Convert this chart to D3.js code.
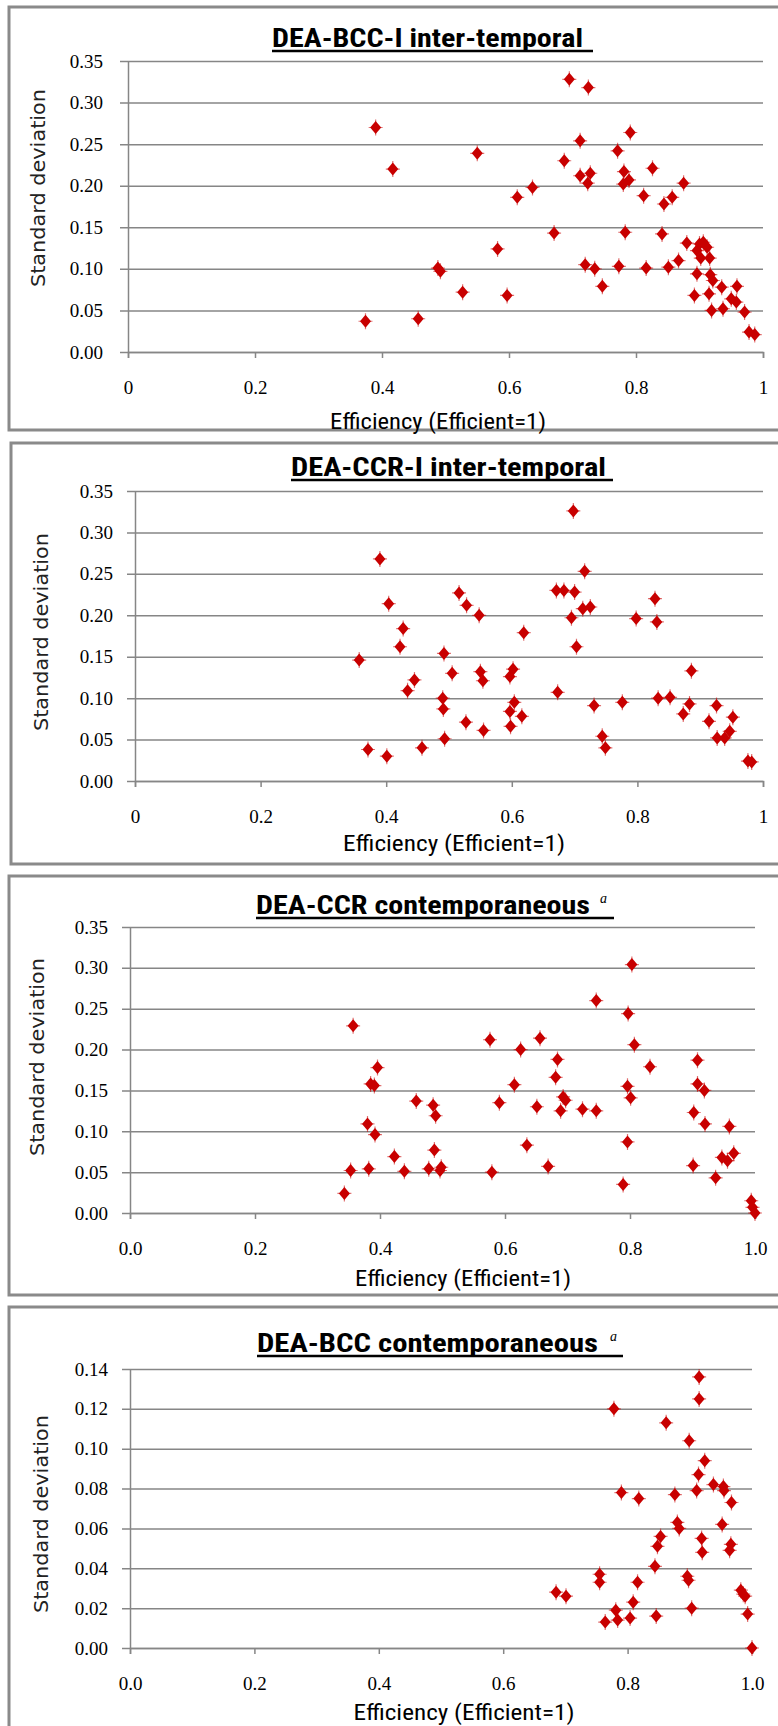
<!DOCTYPE html>
<html>
<head>
<meta charset="utf-8">
<script src="https://cdn.jsdelivr.net/npm/d3@7"></script>
<style>
    body { margin: 0; background: #fff; }
    svg { display: block; }
</style>
</head>
<body>
<div id="chart"></div>
<script>
// DEA-BCC-I inter-temporal
let bccInterEff = [0.374, 0.390, 0.417, 0.457, 0.488, 0.492, 0.527, 0.550, 0.582, 0.597,
    0.613, 0.637, 0.671, 0.695, 0.725, 0.687, 0.712, 0.712, 0.724, 0.728,
    0.720, 0.735, 0.747, 0.771, 0.781, 0.780, 0.789, 0.791, 0.783, 0.773,
    0.812, 0.816, 0.826, 0.844, 0.857, 0.841, 0.851, 0.867, 0.875, 0.880,
    0.892, 0.896, 0.896, 0.900, 0.902, 0.906, 0.912, 0.915, 0.916, 0.917,
    0.921, 0.919, 0.935, 0.937, 0.950, 0.958, 0.959, 0.971, 0.978, 0.987]
let bccInterSd = [0.037, 0.270, 0.220, 0.040, 0.101, 0.097, 0.072, 0.239, 0.124, 0.068,
    0.186, 0.198, 0.143, 0.328, 0.318, 0.230, 0.254, 0.212, 0.203, 0.215,
    0.105, 0.100, 0.079, 0.242, 0.217, 0.202, 0.207, 0.264, 0.144, 0.103,
    0.188, 0.101, 0.221, 0.178, 0.186, 0.142, 0.102, 0.110, 0.203, 0.131,
    0.068, 0.122, 0.094, 0.130, 0.113, 0.132, 0.126, 0.070, 0.113, 0.093,
    0.086, 0.050, 0.078, 0.052, 0.064, 0.060, 0.079, 0.048, 0.024, 0.021]

// DEA-CCR-I inter-temporal
let ccrInterEff = [0.357, 0.371, 0.390, 0.401, 0.404, 0.427, 0.422, 0.445, 0.434, 0.457,
    0.492, 0.490, 0.491, 0.493, 0.505, 0.516, 0.528, 0.527, 0.548, 0.550,
    0.554, 0.555, 0.597, 0.602, 0.597, 0.604, 0.598, 0.616, 0.619, 0.671,
    0.683, 0.700, 0.698, 0.716, 0.695, 0.713, 0.725, 0.703, 0.673, 0.731,
    0.744, 0.749, 0.776, 0.798, 0.828, 0.831, 0.833, 0.852, 0.873, 0.886,
    0.883, 0.914, 0.926, 0.927, 0.939, 0.947, 0.952, 0.976, 0.982]
let ccrInterSd = [0.146, 0.038, 0.268, 0.030, 0.214, 0.184, 0.162, 0.122, 0.109, 0.040,
    0.154, 0.100, 0.087, 0.051, 0.130, 0.227, 0.212, 0.071, 0.200, 0.132,
    0.121, 0.061, 0.126, 0.135, 0.084, 0.095, 0.066, 0.078, 0.179, 0.230,
    0.230, 0.228, 0.326, 0.253, 0.197, 0.208, 0.210, 0.162, 0.107, 0.091,
    0.054, 0.040, 0.095, 0.196, 0.220, 0.192, 0.100, 0.101, 0.081, 0.133,
    0.093, 0.072, 0.091, 0.052, 0.052, 0.060, 0.077, 0.024, 0.023]

// DEA-CCR contemporaneous
let ccrContEff = [0.343, 0.357, 0.353, 0.380, 0.382, 0.385, 0.391, 0.392, 0.396, 0.423,
    0.439, 0.458, 0.478, 0.485, 0.489, 0.487, 0.496, 0.498, 0.576, 0.579,
    0.591, 0.615, 0.625, 0.635, 0.651, 0.656, 0.669, 0.681, 0.684, 0.689,
    0.693, 0.697, 0.724, 0.746, 0.746, 0.789, 0.796, 0.796, 0.797, 0.801,
    0.803, 0.807, 0.832, 0.901, 0.902, 0.908, 0.908, 0.919, 0.920, 0.937,
    0.947, 0.956, 0.959, 0.966, 0.994, 0.996, 1.000]
let ccrContSd = [0.024, 0.229, 0.052, 0.109, 0.054, 0.158, 0.156, 0.096, 0.178, 0.069,
    0.051, 0.137, 0.054, 0.132, 0.119, 0.077, 0.052, 0.056, 0.212, 0.050,
    0.135, 0.157, 0.200, 0.083, 0.130, 0.214, 0.057, 0.166, 0.188, 0.125,
    0.142, 0.138, 0.127, 0.260, 0.125, 0.035, 0.087, 0.155, 0.244, 0.141,
    0.304, 0.206, 0.179, 0.058, 0.123, 0.187, 0.158, 0.150, 0.109, 0.043,
    0.068, 0.064, 0.106, 0.073, 0.015, 0.007, 0.000]

// DEA-BCC contemporaneous
let bccContEff = [0.685, 0.701, 0.755, 0.755, 0.764, 0.778, 0.781, 0.784, 0.790, 0.804,
    0.809, 0.818, 0.816, 0.844, 0.848, 0.853, 0.846, 0.862, 0.876, 0.880,
    0.883, 0.896, 0.898, 0.899, 0.903, 0.911, 0.914, 0.915, 0.915, 0.919,
    0.920, 0.924, 0.938, 0.952, 0.954, 0.955, 0.964, 0.966, 0.967, 0.982,
    0.986, 0.989, 0.993, 1.000]
let bccContSd = [0.028, 0.026, 0.037, 0.033, 0.013, 0.120, 0.019, 0.014, 0.078, 0.015,
    0.023, 0.075, 0.033, 0.041, 0.051, 0.056, 0.016, 0.113, 0.077, 0.063,
    0.060, 0.036, 0.034, 0.104, 0.020, 0.079, 0.087, 0.136, 0.125, 0.055,
    0.048, 0.094, 0.082, 0.062, 0.081, 0.079, 0.049, 0.052, 0.073, 0.029,
    0.027, 0.026, 0.017, 0.000]

// tick values and labels
let sdTicks = [0, 0.05, 0.10, 0.15, 0.20, 0.25, 0.30, 0.35]
let sdLabels = ["0.00", "0.05", "0.10", "0.15", "0.20", "0.25", "0.30", "0.35"]
let sdTicksSmall = [0, 0.02, 0.04, 0.06, 0.08, 0.10, 0.12, 0.14]
let sdLabelsSmall = ["0.00", "0.02", "0.04", "0.06", "0.08", "0.10", "0.12", "0.14"]
let effTicks = [0, 0.2, 0.4, 0.6, 0.8, 1]
let effLabelsShort = ["0", "0.2", "0.4", "0.6", "0.8", "1"]
let effLabelsLong = ["0.0", "0.2", "0.4", "0.6", "0.8", "1.0"]

let titles = ["DEA-BCC-I inter-temporal", "DEA-CCR-I inter-temporal", "DEA-CCR contemporaneous", "DEA-BCC contemporaneous"]
let xTitle = "Efficiency (Efficient=1)"
let yTitle = "Standard deviation"

let colors = {
    marker: "#c80000",
    grid: "#868686",
    frame: "#8a8a8a",
    text: "#000"
}

const narrow = "'Liberation Sans Narrow', 'Arial Narrow', 'Roboto Condensed', 'Open Sans', sans-serif"

// layout of each panel (pixel positions in the page)
const panels = [
    {
        title: titles[0], sup: false, eff: bccInterEff, sd: bccInterSd,
        yTicks: sdTicks, yLabels: sdLabels, yMax: 0.35, xLabels: effLabelsShort,
        frame: { top: 7, bottom: 430, left: 9 },
        plot: { left: 128, right: 763, top: 61, bottom: 352 },
        head: { x: 272, y: 47, w: 311, ux2: 593, uy: 51 },
        xt: { cx: 438, y: 429, w: 216 }, yt: { x: 38, cy: 188 }, pad: 25
    },
    {
        title: titles[1], sup: false, eff: ccrInterEff, sd: ccrInterSd,
        yTicks: sdTicks, yLabels: sdLabels, yMax: 0.35, xLabels: effLabelsShort,
        frame: { top: 443, bottom: 864, left: 11 },
        plot: { left: 135, right: 763, top: 491, bottom: 781 },
        head: { x: 291, y: 476, w: 315, ux2: 613, uy: 480 },
        xt: { cx: 454, y: 851, w: 222 }, yt: { x: 41, cy: 632 }, pad: 22
    },
    {
        title: titles[2], sup: true, eff: ccrContEff, sd: ccrContSd,
        yTicks: sdTicks, yLabels: sdLabels, yMax: 0.35, xLabels: effLabelsLong,
        frame: { top: 876, bottom: 1295, left: 9 },
        plot: { left: 130, right: 755, top: 927, bottom: 1213 },
        head: { x: 256, y: 914, w: 334, ux2: 614, uy: 918, sx: 600, sy: 903 },
        xt: { cx: 463, y: 1286, w: 216 }, yt: { x: 37, cy: 1057 }, pad: 22
    },
    {
        title: titles[3], sup: true, eff: bccContEff, sd: bccContSd,
        yTicks: sdTicksSmall, yLabels: sdLabelsSmall, yMax: 0.14, xLabels: effLabelsLong,
        frame: { top: 1307, bottom: null, left: 9 },
        plot: { left: 130, right: 752, top: 1369, bottom: 1648 },
        head: { x: 257, y: 1352, w: 341, ux2: 623, uy: 1356, sx: 610, sy: 1341 },
        xt: { cx: 464, y: 1720, w: 221 }, yt: { x: 41, cy: 1514 }, pad: 22
    }
]

const svg = d3.select('#chart')
    .append('svg')
    .attr('width', 778)
    .attr('height', 1726)

const diamond = "M0,-6.5L5.5,0L0,6.5L-5.5,0Z"
const spikes = "M0,-8V8M-7,0H7"

panels.forEach(p => drawPanel(p))

function drawPanel(p) {
    const g = svg.append('g')

    // frame (right side is cut off in the original)
    let f = p.frame
    let framePath = `M790,${f.top}H${f.left}V${f.bottom === null ? 1740 : f.bottom}`
    if (f.bottom !== null) framePath += 'H790'
    g.append('path')
        .attr('d', framePath)
        .attr('fill', 'none')
        .attr('stroke', colors.frame)
        .attr('stroke-width', 3)

    const xScale = d3.scaleLinear()
        .domain([0, 1])
        .range([p.plot.left, p.plot.right])

    const yScale = d3.scaleLinear()
        .domain([0, p.yMax])
        .range([p.plot.bottom, p.plot.top])

    // y axis + gridlines
    const yAxis = d3.axisLeft(yScale)
        .tickValues(p.yTicks)
        .tickFormat((d, i) => p.yLabels[i])
        .tickSizeInner(-(p.plot.right - p.plot.left))
        .tickSizeOuter(0)
        .tickPadding(p.pad)

    const yAxisDraw = g.append('g')
        .attr('class', 'y axis')
        .attr('transform', `translate(${p.plot.left},0)`)
        .call(yAxis)

    yAxisDraw.select('.domain')
        .attr('stroke', colors.grid)
        .attr('stroke-width', 1.5)
    yAxisDraw.selectAll('.tick line')
        .attr('x1', -8)
        .attr('stroke', colors.grid)
        .attr('stroke-width', 1.5)
    yAxisDraw.selectAll('.tick text')
        .attr('fill', colors.text)
        .style('font-family', "'Liberation Serif', 'Times New Roman', serif")
        .style('font-size', '19px')

    // x axis
    const xAxis = d3.axisBottom(xScale)
        .tickValues(effTicks)
        .tickFormat((d, i) => p.xLabels[i])
        .tickSize(6)
        .tickPadding(23)

    const xAxisDraw = g.append('g')
        .attr('class', 'x axis')
        .attr('transform', `translate(0,${p.plot.bottom})`)
        .call(xAxis)

    xAxisDraw.select('.domain')
        .attr('stroke', colors.grid)
        .attr('stroke-width', 1.5)
    xAxisDraw.selectAll('.tick line')
        .attr('stroke', colors.grid)
        .attr('stroke-width', 1.5)
    xAxisDraw.selectAll('.tick text')
        .attr('fill', colors.text)
        .style('font-family', "'Liberation Serif', 'Times New Roman', serif")
        .style('font-size', '19px')

    // points
    const pts = g.append('g')
        .selectAll('g')
        .data(d3.zip(p.eff, p.sd))
        .join('g')
        .attr('transform', d => `translate(${xScale(d[0])},${yScale(d[1])})`)

    pts.append('path')
        .attr('d', spikes)
        .attr('stroke', colors.marker)
        .attr('stroke-width', 1.2)
        .attr('stroke-opacity', 0.55)
    pts.append('path')
        .attr('d', diamond)
        .attr('fill', colors.marker)

    // header
    g.append('text')
        .attr('x', p.head.x)
        .attr('y', p.head.y)
        .attr('textLength', p.head.w)
        .attr('lengthAdjust', 'spacingAndGlyphs')
        .style('font-family', narrow)
        .style('font-size', '25px')
        .style('font-weight', 'bold')
        .text(p.title)

    if (p.sup) {
        g.append('text')
            .attr('x', p.head.sx)
            .attr('y', p.head.sy)
            .style('font-family', "'Liberation Serif', serif")
            .style('font-style', 'italic')
            .style('font-size', '14px')
            .text('a')
    }

    g.append('line')
        .attr('x1', p.head.x)
        .attr('x2', p.head.ux2)
        .attr('y1', p.head.uy)
        .attr('y2', p.head.uy)
        .attr('stroke', '#000')
        .attr('stroke-width', 2.5)

    // axis titles
    g.append('text')
        .attr('x', p.xt.cx - p.xt.w / 2)
        .attr('y', p.xt.y)
        .attr('textLength', p.xt.w)
        .attr('lengthAdjust', 'spacingAndGlyphs')
        .style('font-family', narrow)
        .style('font-size', '22px')
        .text(xTitle)

    g.append('text')
        .attr('transform', `translate(${p.yt.x},${p.yt.cy}) rotate(-90)`)
        .attr('text-anchor', 'middle')
        .attr('dominant-baseline', 'central')
        .attr('textLength', 198)
        .attr('lengthAdjust', 'spacingAndGlyphs')
        .style('font-family', "'DejaVu Sans', Verdana, sans-serif")
        .style('font-size', '19px')
        .attr('fill', '#222')
        .text(yTitle)
}
</script>
</body>
</html>
